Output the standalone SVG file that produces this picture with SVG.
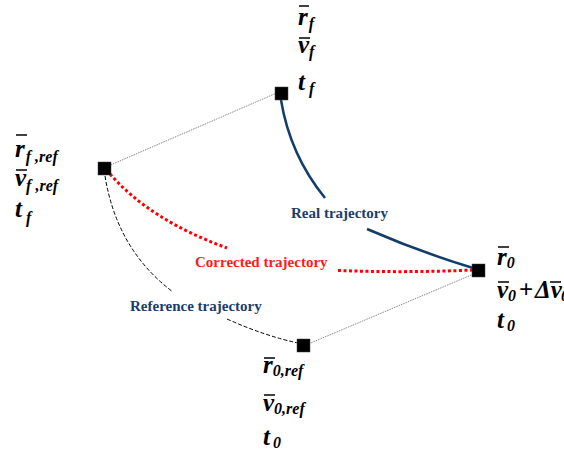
<svg xmlns="http://www.w3.org/2000/svg" width="564" height="452" viewBox="0 0 564 452">
<style>
.m{font-family:"Liberation Serif","Times New Roman",serif;font-weight:bold;font-style:italic;font-size:25px;fill:#000}
.s{font-size:16px}
.n{font-style:normal}
.bar{stroke:#000;stroke-width:1.5}
.lbl{font-family:"Liberation Serif","Times New Roman",serif;font-weight:bold;font-size:15px}
.node{fill:#000;stroke:#444;stroke-width:0.5}
</style>
<rect width="564" height="452" fill="#fff"/>
<g id="connectors" fill="none">
  <line x1="106" y1="167" x2="279" y2="92" stroke="#888" stroke-width="1" stroke-dasharray="1.5 1"/>
  <line x1="476" y1="273" x2="306" y2="345" stroke="#888" stroke-width="1" stroke-dasharray="1.5 1"/>
  <path d="M281,100 Q290,155 325,198" stroke="#123d6b" stroke-width="2.5"/>
  <path d="M367,229 Q420,252 473,268" stroke="#123d6b" stroke-width="2.5"/>
  <path d="M105,176 Q117,250 173,292" stroke="#000" stroke-width="1" stroke-dasharray="4 2"/>
  <path d="M227,319 Q265,336 298,343" stroke="#000" stroke-width="1" stroke-dasharray="4 2"/>
  <path d="M110,174 Q150,220 227,248" stroke="#ff0000" stroke-width="3" stroke-dasharray="3 2.5"/>
  <path d="M338,270.5 Q405,273 473,270" stroke="#ff0000" stroke-width="3" stroke-dasharray="3 2.5"/>
</g>
<g id="node-final">
  <rect class="node" x="275" y="87" width="13" height="13"/>
  <text class="m" x="298" y="25">r<tspan class="s" dx="1" dy="4">f</tspan></text>
  <line class="bar" x1="299" y1="6" x2="309" y2="6"/>
  <text class="m" x="298" y="53">v<tspan class="s" dy="4">f</tspan></text>
  <line class="bar" x1="299" y1="38" x2="310" y2="38"/>
  <text class="m" x="298" y="90">t<tspan class="s" dx="4" dy="4">f</tspan></text>
</g>
<g id="node-final-ref">
  <rect class="node" x="98" y="162" width="13" height="13"/>
  <text class="m" x="15" y="157">r<tspan class="s" dx="1" dy="5">f ,ref</tspan></text>
  <line class="bar" x1="16" y1="135" x2="27" y2="135"/>
  <text class="m" x="15" y="186">v<tspan class="s" dy="5">f ,ref</tspan></text>
  <line class="bar" x1="16" y1="170" x2="27" y2="170"/>
  <text class="m" x="15" y="217">t<tspan class="s" dx="4" dy="6">f</tspan></text>
</g>
<g id="node-initial">
  <rect class="node" x="472" y="264" width="13" height="13"/>
  <text class="m" x="497" y="265">r<tspan class="s" dy="3">0</tspan></text>
  <line class="bar" x1="498" y1="247" x2="509" y2="247"/>
  <text class="m" y="298"><tspan x="497">v</tspan><tspan class="s" x="508" dy="3">0</tspan><tspan class="n" x="519" dy="-3">+</tspan><tspan x="535">Δv</tspan><tspan class="s" x="561" dy="3">0</tspan></text>
  <line class="bar" x1="498" y1="282" x2="509" y2="282"/>
  <line class="bar" x1="550" y1="282" x2="561" y2="282"/>
  <text class="m" x="497" y="328">t<tspan class="s" dx="3" dy="3">0</tspan></text>
</g>
<g id="node-initial-ref">
  <rect class="node" x="297" y="339" width="13" height="13"/>
  <text class="m" x="263" y="373">r<tspan class="s" dy="3">0,ref</tspan></text>
  <line class="bar" x1="264" y1="358" x2="275" y2="358"/>
  <text class="m" x="263" y="411">v<tspan class="s" dy="3">0,ref</tspan></text>
  <line class="bar" x1="264" y1="395" x2="275" y2="395"/>
  <text class="m" x="263" y="445">t<tspan class="s" dx="3" dy="3">0</tspan></text>
</g>
<g id="labels">
  <text class="lbl" x="291" y="218" fill="#1b3d6a">Real trajectory</text>
  <text class="lbl" x="195" y="267" fill="#ff1a1a">Corrected trajectory</text>
  <text class="lbl" x="130" y="311" fill="#1b3d6a">Reference trajectory</text>
</g>
</svg>
